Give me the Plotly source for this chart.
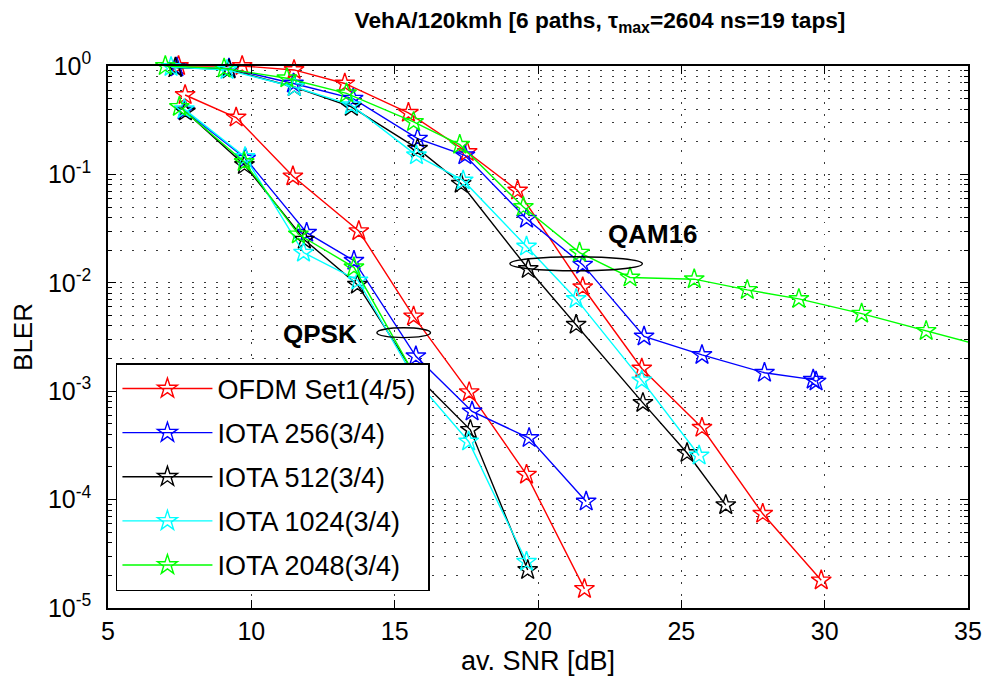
import math
import plotly.graph_objects as go

# ---- BLER vs average SNR, VehA 120 km/h ----
# Each system has a QPSK branch and a QAM16 branch (joined into one trace with a gap).

ofdm_qpsk_snr = [7.69, 9.47, 11.45, 13.75, 15.66, 17.6, 19.6, 21.62]
ofdm_qpsk_bler = [0.54, 0.335, 0.096, 0.030, 0.0049, 9.8e-4, 1.7e-4, 1.5e-5]
ofdm_qam_snr = [7.46, 9.68, 11.49, 13.26, 15.48, 17.53, 19.29, 21.56, 23.62, 25.72, 27.84, 29.88]
ofdm_qam_bler = [1.0, 1.0, 0.92, 0.69, 0.37, 0.161, 0.071, 0.0091, 0.00162, 4.6e-4, 7.4e-5, 1.8e-5]

iota256_qpsk_snr = [7.66, 9.8, 11.93, 13.58, 15.74, 17.7, 19.69, 21.68]
iota256_qpsk_bler = [0.39, 0.14, 0.029, 0.016, 0.0021, 6.5e-4, 3.7e-4, 9.6e-5]
iota256_qam_snr = [7.4, 9.22, 11.47, 13.55, 15.8, 17.45, 19.6, 21.56, 23.7, 25.72, 27.9, 29.6, 29.7]
iota256_qam_bler = [0.97, 0.95, 0.69, 0.50, 0.214, 0.15, 0.039, 0.0147, 0.0032, 0.00216, 0.00148, 0.00128, 0.00123]

iota512_qpsk_snr = [7.7, 9.76, 11.85, 13.7, 15.7, 17.64, 19.64]
iota512_qpsk_bler = [0.38, 0.122, 0.025, 0.0096, 0.00144, 4.4e-4, 2.24e-5]
iota512_qam_snr = [7.35, 9.22, 11.5, 13.49, 15.8, 17.32, 19.66, 21.33, 23.66, 25.2, 26.55]
iota512_qam_bler = [0.97, 0.93, 0.64, 0.42, 0.173, 0.082, 0.0134, 0.0041, 7.8e-4, 2.69e-4, 8.9e-5]

iota1024_qpsk_snr = [7.66, 9.78, 11.82, 13.72, 15.7, 17.58, 19.6]
iota1024_qpsk_bler = [0.40, 0.145, 0.019, 0.0105, 0.0013, 3.44e-4, 2.67e-5]
iota1024_qam_snr = [7.2, 9.15, 11.5, 13.49, 15.76, 17.39, 19.6, 21.33, 23.62, 25.62]
iota1024_qam_bler = [0.98, 0.92, 0.64, 0.435, 0.15, 0.088, 0.0216, 0.0071, 0.00126, 2.55e-4]

iota2048_qpsk_snr = [7.49, 9.75, 11.64, 13.58, 15.7]
iota2048_qpsk_bler = [0.42, 0.13, 0.028, 0.0139, 0.0014]
iota2048_qam_snr = [7.0, 9.05, 11.24, 13.32, 15.66, 17.27, 19.49, 21.45, 23.21, 25.45, 27.3, 29.1, 31.29, 33.54, 35.8]
iota2048_qam_bler = [1.0, 0.95, 0.77, 0.56, 0.305, 0.188, 0.050, 0.019, 0.0112, 0.0108, 0.0086, 0.0071, 0.0052, 0.0036, 0.0025]

series_names = ["OFDM Set1(4/5)", "IOTA 256(3/4)", "IOTA 512(3/4)", "IOTA 1024(3/4)", "IOTA 2048(3/4)"]
series_colors = ["#ff0000", "#0000ff", "#000000", "#00ffff", "#00ff00"]
series_data = [
    (ofdm_qpsk_snr, ofdm_qpsk_bler, ofdm_qam_snr, ofdm_qam_bler),
    (iota256_qpsk_snr, iota256_qpsk_bler, iota256_qam_snr, iota256_qam_bler),
    (iota512_qpsk_snr, iota512_qpsk_bler, iota512_qam_snr, iota512_qam_bler),
    (iota1024_qpsk_snr, iota1024_qpsk_bler, iota1024_qam_snr, iota1024_qam_bler),
    (iota2048_qpsk_snr, iota2048_qpsk_bler, iota2048_qam_snr, iota2048_qam_bler),
]

# modulation group labels and the ellipses that mark each group
qpsk_label = ("QPSK", 12.4, 10 ** -2.47)
qam_label = ("QAM16", 24.0, 10 ** -1.546)
qpsk_ellipse = (14.38, 16.25, 0.00312, 0.00385)
qam_ellipse = (19.02, 23.64, 0.0129, 0.0174)

x_ticks = [5, 10, 15, 20, 25, 30, 35]
y_ticks = [1e-5, 1e-4, 1e-3, 1e-2, 1e-1, 1]
y_ticktext = ["10<sup>-5</sup>", "10<sup>-4</sup>", "10<sup>-3</sup>",
              "10<sup>-2</sup>", "10<sup>-1</sup>", "10<sup>0</sup>"]
y_minor = [m * 10.0 ** e for e in range(-5, 0) for m in range(2, 10)]

FONT = "Liberation Sans, Arial, Helvetica, sans-serif"
GRID_COLOR = "#3a3a3a"
GRID_DASH = "1.5px,10.5px"
GRID_W = 1.2
LEGEND_PAD = "&nbsp;"

fig = go.Figure()
for name, color, (qs, qb, ms, mb) in zip(series_names, series_colors, series_data):
    fig.add_trace(go.Scatter(
        x=list(qs) + [None] + list(ms),
        y=list(qb) + [None] + list(mb),
        mode="lines+markers",
        name=name + LEGEND_PAD,
        legendgroup=name,
        connectgaps=False,
        cliponaxis=False,
        line=dict(color=color, width=1.4),
        marker=dict(symbol="star-open", size=15, color=color, line=dict(width=1.4, color=color)),
    ))

for (x0, x1, y0, y1) in (qpsk_ellipse, qam_ellipse):
    fig.add_shape(type="circle", xref="x", yref="y", x0=x0, x1=x1, y0=y0, y1=y1,
                  line=dict(color="black", width=1.4))

for (txt, xv, yv) in (qpsk_label, qam_label):
    fig.add_annotation(x=xv, y=math.log10(yv), xref="x", yref="y", text="<b>%s</b>" % txt,
                       showarrow=False, font=dict(family=FONT, size=26, color="black"))

fig.update_layout(
    width=994, height=684,
    margin=dict(l=108, r=19, t=66, b=76),
    paper_bgcolor="white", plot_bgcolor="white",
    font=dict(family=FONT, size=24, color="black"),
    title=dict(
        text="<b>VehA/120kmh [6 paths, \u03c4<sub>max</sub>=2604 ns=19 taps]</b>",
        x=600 / 994, xanchor="center",
        y=1 - 20 / 684, yanchor="middle",
        font=dict(family=FONT, size=22.7, color="black"),
    ),
    showlegend=True,
    legend=dict(
        x=(116 - 108) / 867, y=(608 - 363) / 542, xanchor="left", yanchor="top",
        bgcolor="white", bordercolor="black", borderwidth=1.5,
        font=dict(family=FONT, size=27, color="black"),
        itemwidth=90, tracegroupgap=6,
    ),
)

fig.update_xaxes(
    range=[5, 35], tickvals=x_ticks, ticks="inside", ticklen=8, tickwidth=1.2,
    tickcolor="black", showline=True, linecolor="black", linewidth=1.5, mirror="ticks",
    showgrid=True, gridcolor=GRID_COLOR, gridwidth=GRID_W, griddash=GRID_DASH, zeroline=False,
    title=dict(text="av. SNR [dB]", font=dict(family=FONT, size=27), standoff=7),
    tickfont=dict(family=FONT, size=25),
)
fig.update_yaxes(
    type="log", range=[-5, 0], tickvals=y_ticks, ticktext=y_ticktext,
    ticks="inside", ticklen=8, tickwidth=1.2, tickcolor="black",
    showline=True, linecolor="black", linewidth=1.5, mirror="ticks",
    showgrid=True, gridcolor=GRID_COLOR, gridwidth=GRID_W, griddash=GRID_DASH, zeroline=False,
    minor=dict(tickvals=y_minor, ticks="inside", ticklen=4, tickcolor="black",
               showgrid=True, gridcolor=GRID_COLOR, gridwidth=GRID_W, griddash=GRID_DASH),
    title=dict(text="BLER", font=dict(family=FONT, size=26), standoff=8),
    tickfont=dict(family=FONT, size=25),
    ticklabelstandoff=10,
)

fig.write_html("out.html")
